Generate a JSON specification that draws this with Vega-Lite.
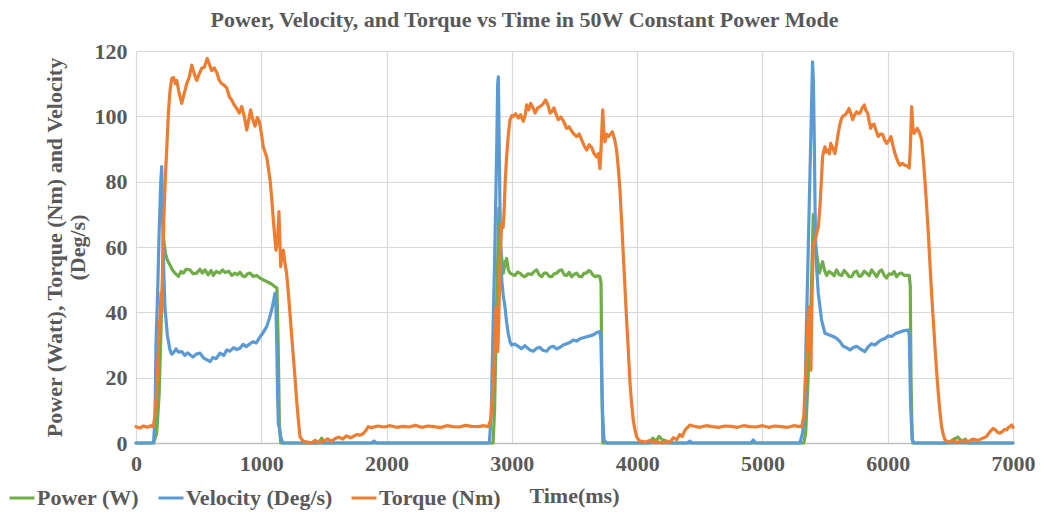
{
  "$schema": "https://vega.github.io/schema/vega-lite/v6.json",
  "width": 877,
  "height": 392,
  "autosize": "none",
  "padding": {"left": 136, "top": 51, "right": 29, "bottom": 72},
  "background": "white",
  "title": {
    "text": "Power, Velocity, and Torque vs Time in 50W Constant Power Mode",
    "font": "Liberation Serif", "fontSize": 22, "fontWeight": "bold", "color": "#595959",
    "anchor": "middle", "frame": "group", "dx": -50, "offset": 8
  },
  "data": {"values": [
    {"s":"Power (W)","t":0,"v":0},{"s":"Power (W)","t":140,"v":0},{"s":"Power (W)","t":165,"v":3},{"s":"Power (W)","t":185,"v":15},{"s":"Power (W)","t":205,"v":42},{"s":"Power (W)","t":222,"v":62},{"s":"Power (W)","t":235,"v":58},{"s":"Power (W)","t":250,"v":56},{"s":"Power (W)","t":271,"v":54.5},{"s":"Power (W)","t":290,"v":53},{"s":"Power (W)","t":311,"v":52},{"s":"Power (W)","t":338,"v":51},{"s":"Power (W)","t":360,"v":52.5},{"s":"Power (W)","t":378,"v":52},{"s":"Power (W)","t":400,"v":53.2},{"s":"Power (W)","t":431,"v":53},{"s":"Power (W)","t":455,"v":51.8},{"s":"Power (W)","t":484,"v":52},{"s":"Power (W)","t":510,"v":53.2},{"s":"Power (W)","t":530,"v":52},{"s":"Power (W)","t":551,"v":53},{"s":"Power (W)","t":575,"v":51.5},{"s":"Power (W)","t":600,"v":52.8},{"s":"Power (W)","t":617,"v":51.3},{"s":"Power (W)","t":640,"v":52.5},{"s":"Power (W)","t":670,"v":52},{"s":"Power (W)","t":690,"v":53},{"s":"Power (W)","t":710,"v":52.2},{"s":"Power (W)","t":740,"v":52.6},{"s":"Power (W)","t":764,"v":51.3},{"s":"Power (W)","t":790,"v":52},{"s":"Power (W)","t":810,"v":51.5},{"s":"Power (W)","t":830,"v":52.3},{"s":"Power (W)","t":850,"v":51.2},{"s":"Power (W)","t":870,"v":50.9},{"s":"Power (W)","t":890,"v":51.8},{"s":"Power (W)","t":910,"v":52},{"s":"Power (W)","t":935,"v":51},{"s":"Power (W)","t":963,"v":51.3},{"s":"Power (W)","t":990,"v":50.5},{"s":"Power (W)","t":1016,"v":49.9},{"s":"Power (W)","t":1040,"v":49.5},{"s":"Power (W)","t":1070,"v":48.9},{"s":"Power (W)","t":1090,"v":48.5},{"s":"Power (W)","t":1109,"v":47.8},{"s":"Power (W)","t":1125,"v":47.5},{"s":"Power (W)","t":1135,"v":30},{"s":"Power (W)","t":1145,"v":5},{"s":"Power (W)","t":1155,"v":0},{"s":"Power (W)","t":1460,"v":0},{"s":"Power (W)","t":1482,"v":1.5},{"s":"Power (W)","t":1500,"v":0},{"s":"Power (W)","t":2850,"v":0},{"s":"Power (W)","t":2862,"v":10},{"s":"Power (W)","t":2880,"v":45},{"s":"Power (W)","t":2897,"v":72},{"s":"Power (W)","t":2910,"v":60},{"s":"Power (W)","t":2932,"v":52},{"s":"Power (W)","t":2945,"v":55},{"s":"Power (W)","t":2958,"v":56.5},{"s":"Power (W)","t":2972,"v":53},{"s":"Power (W)","t":2985,"v":52},{"s":"Power (W)","t":3005,"v":51.6},{"s":"Power (W)","t":3024,"v":51.3},{"s":"Power (W)","t":3045,"v":52.3},{"s":"Power (W)","t":3065,"v":52},{"s":"Power (W)","t":3085,"v":51.2},{"s":"Power (W)","t":3104,"v":50.9},{"s":"Power (W)","t":3130,"v":51.8},{"s":"Power (W)","t":3158,"v":51.6},{"s":"Power (W)","t":3178,"v":52.5},{"s":"Power (W)","t":3198,"v":53},{"s":"Power (W)","t":3218,"v":51.5},{"s":"Power (W)","t":3238,"v":50.9},{"s":"Power (W)","t":3258,"v":52},{"s":"Power (W)","t":3278,"v":52},{"s":"Power (W)","t":3298,"v":51},{"s":"Power (W)","t":3318,"v":50.9},{"s":"Power (W)","t":3338,"v":51.8},{"s":"Power (W)","t":3358,"v":52},{"s":"Power (W)","t":3378,"v":52.8},{"s":"Power (W)","t":3398,"v":53},{"s":"Power (W)","t":3418,"v":51.5},{"s":"Power (W)","t":3437,"v":51.3},{"s":"Power (W)","t":3457,"v":52.3},{"s":"Power (W)","t":3477,"v":50.9},{"s":"Power (W)","t":3497,"v":51.6},{"s":"Power (W)","t":3517,"v":52},{"s":"Power (W)","t":3537,"v":51},{"s":"Power (W)","t":3557,"v":50.9},{"s":"Power (W)","t":3577,"v":52},{"s":"Power (W)","t":3597,"v":52},{"s":"Power (W)","t":3612,"v":52.8},{"s":"Power (W)","t":3629,"v":52.5},{"s":"Power (W)","t":3645,"v":51.5},{"s":"Power (W)","t":3664,"v":50.9},{"s":"Power (W)","t":3685,"v":51.2},{"s":"Power (W)","t":3703,"v":50.9},{"s":"Power (W)","t":3712,"v":49},{"s":"Power (W)","t":3718,"v":20},{"s":"Power (W)","t":3726,"v":0},{"s":"Power (W)","t":4100,"v":0},{"s":"Power (W)","t":4125,"v":1.5},{"s":"Power (W)","t":4150,"v":0.5},{"s":"Power (W)","t":4175,"v":2},{"s":"Power (W)","t":4200,"v":1},{"s":"Power (W)","t":4240,"v":0.5},{"s":"Power (W)","t":4260,"v":0},{"s":"Power (W)","t":5330,"v":0},{"s":"Power (W)","t":5345,"v":3},{"s":"Power (W)","t":5365,"v":20},{"s":"Power (W)","t":5387,"v":42},{"s":"Power (W)","t":5406,"v":70},{"s":"Power (W)","t":5420,"v":62},{"s":"Power (W)","t":5433,"v":58},{"s":"Power (W)","t":5454,"v":52},{"s":"Power (W)","t":5468,"v":54},{"s":"Power (W)","t":5480,"v":55.5},{"s":"Power (W)","t":5495,"v":53},{"s":"Power (W)","t":5512,"v":51.3},{"s":"Power (W)","t":5532,"v":52.5},{"s":"Power (W)","t":5552,"v":52},{"s":"Power (W)","t":5572,"v":51.2},{"s":"Power (W)","t":5592,"v":53},{"s":"Power (W)","t":5612,"v":51.6},{"s":"Power (W)","t":5632,"v":51.3},{"s":"Power (W)","t":5652,"v":52.8},{"s":"Power (W)","t":5672,"v":52},{"s":"Power (W)","t":5692,"v":50.9},{"s":"Power (W)","t":5712,"v":50.9},{"s":"Power (W)","t":5732,"v":52.3},{"s":"Power (W)","t":5752,"v":52.6},{"s":"Power (W)","t":5772,"v":51},{"s":"Power (W)","t":5792,"v":51.3},{"s":"Power (W)","t":5812,"v":52.6},{"s":"Power (W)","t":5832,"v":52},{"s":"Power (W)","t":5852,"v":51.2},{"s":"Power (W)","t":5872,"v":53},{"s":"Power (W)","t":5892,"v":52},{"s":"Power (W)","t":5912,"v":50.9},{"s":"Power (W)","t":5932,"v":52.4},{"s":"Power (W)","t":5952,"v":53},{"s":"Power (W)","t":5972,"v":51.3},{"s":"Power (W)","t":5991,"v":50.5},{"s":"Power (W)","t":6011,"v":51.8},{"s":"Power (W)","t":6031,"v":51.6},{"s":"Power (W)","t":6051,"v":52.5},{"s":"Power (W)","t":6071,"v":50.9},{"s":"Power (W)","t":6091,"v":51.8},{"s":"Power (W)","t":6111,"v":52},{"s":"Power (W)","t":6131,"v":51.3},{"s":"Power (W)","t":6151,"v":51.3},{"s":"Power (W)","t":6172,"v":51.3},{"s":"Power (W)","t":6180,"v":48},{"s":"Power (W)","t":6186,"v":20},{"s":"Power (W)","t":6195,"v":2},{"s":"Power (W)","t":6200,"v":0},{"s":"Power (W)","t":6480,"v":0},{"s":"Power (W)","t":6520,"v":1},{"s":"Power (W)","t":6560,"v":1.8},{"s":"Power (W)","t":6590,"v":0.5},{"s":"Power (W)","t":6620,"v":1.2},{"s":"Power (W)","t":6640,"v":0},{"s":"Power (W)","t":7000,"v":0},

    {"s":"Velocity (Deg/s)","t":0,"v":0},{"s":"Velocity (Deg/s)","t":140,"v":0},{"s":"Velocity (Deg/s)","t":152,"v":8},{"s":"Velocity (Deg/s)","t":160,"v":31},{"s":"Velocity (Deg/s)","t":172,"v":45},{"s":"Velocity (Deg/s)","t":185,"v":65},{"s":"Velocity (Deg/s)","t":198,"v":80},{"s":"Velocity (Deg/s)","t":205,"v":84.6},{"s":"Velocity (Deg/s)","t":212,"v":70},{"s":"Velocity (Deg/s)","t":222,"v":52},{"s":"Velocity (Deg/s)","t":231,"v":41.7},{"s":"Velocity (Deg/s)","t":250,"v":33},{"s":"Velocity (Deg/s)","t":271,"v":28.5},{"s":"Velocity (Deg/s)","t":285,"v":27.2},{"s":"Velocity (Deg/s)","t":298,"v":27.6},{"s":"Velocity (Deg/s)","t":320,"v":28.8},{"s":"Velocity (Deg/s)","t":340,"v":27.8},{"s":"Velocity (Deg/s)","t":365,"v":28},{"s":"Velocity (Deg/s)","t":390,"v":26.8},{"s":"Velocity (Deg/s)","t":411,"v":27.6},{"s":"Velocity (Deg/s)","t":431,"v":27},{"s":"Velocity (Deg/s)","t":455,"v":26.3},{"s":"Velocity (Deg/s)","t":480,"v":27.2},{"s":"Velocity (Deg/s)","t":511,"v":27.5},{"s":"Velocity (Deg/s)","t":540,"v":26},{"s":"Velocity (Deg/s)","t":566,"v":25.5},{"s":"Velocity (Deg/s)","t":591,"v":24.9},{"s":"Velocity (Deg/s)","t":615,"v":26.2},{"s":"Velocity (Deg/s)","t":640,"v":25.8},{"s":"Velocity (Deg/s)","t":670,"v":27.5},{"s":"Velocity (Deg/s)","t":700,"v":26.8},{"s":"Velocity (Deg/s)","t":725,"v":28.5},{"s":"Velocity (Deg/s)","t":750,"v":28.1},{"s":"Velocity (Deg/s)","t":780,"v":29.2},{"s":"Velocity (Deg/s)","t":805,"v":28.6},{"s":"Velocity (Deg/s)","t":830,"v":29},{"s":"Velocity (Deg/s)","t":855,"v":30.2},{"s":"Velocity (Deg/s)","t":880,"v":29.5},{"s":"Velocity (Deg/s)","t":910,"v":30.4},{"s":"Velocity (Deg/s)","t":935,"v":31},{"s":"Velocity (Deg/s)","t":960,"v":30.6},{"s":"Velocity (Deg/s)","t":990,"v":32.5},{"s":"Velocity (Deg/s)","t":1010,"v":33.5},{"s":"Velocity (Deg/s)","t":1030,"v":34.8},{"s":"Velocity (Deg/s)","t":1043,"v":35.6},{"s":"Velocity (Deg/s)","t":1063,"v":38},{"s":"Velocity (Deg/s)","t":1083,"v":40.7},{"s":"Velocity (Deg/s)","t":1098,"v":43.5},{"s":"Velocity (Deg/s)","t":1109,"v":45.8},{"s":"Velocity (Deg/s)","t":1117,"v":42},{"s":"Velocity (Deg/s)","t":1123,"v":31.5},{"s":"Velocity (Deg/s)","t":1130,"v":15},{"s":"Velocity (Deg/s)","t":1136,"v":6},{"s":"Velocity (Deg/s)","t":1145,"v":4.5},{"s":"Velocity (Deg/s)","t":1155,"v":2},{"s":"Velocity (Deg/s)","t":1170,"v":0},{"s":"Velocity (Deg/s)","t":1880,"v":0},{"s":"Velocity (Deg/s)","t":1900,"v":0.6},{"s":"Velocity (Deg/s)","t":1920,"v":0},{"s":"Velocity (Deg/s)","t":2820,"v":0},{"s":"Velocity (Deg/s)","t":2835,"v":8},{"s":"Velocity (Deg/s)","t":2847,"v":30},{"s":"Velocity (Deg/s)","t":2862,"v":55},{"s":"Velocity (Deg/s)","t":2879,"v":90},{"s":"Velocity (Deg/s)","t":2887,"v":110},{"s":"Velocity (Deg/s)","t":2892,"v":112.1},{"s":"Velocity (Deg/s)","t":2898,"v":95},{"s":"Velocity (Deg/s)","t":2905,"v":72.3},{"s":"Velocity (Deg/s)","t":2912,"v":58},{"s":"Velocity (Deg/s)","t":2919,"v":49.9},{"s":"Velocity (Deg/s)","t":2932,"v":45},{"s":"Velocity (Deg/s)","t":2945,"v":41.7},{"s":"Velocity (Deg/s)","t":2958,"v":37},{"s":"Velocity (Deg/s)","t":2971,"v":33.6},{"s":"Velocity (Deg/s)","t":2985,"v":31},{"s":"Velocity (Deg/s)","t":2998,"v":30},{"s":"Velocity (Deg/s)","t":3024,"v":30.3},{"s":"Velocity (Deg/s)","t":3051,"v":29.6},{"s":"Velocity (Deg/s)","t":3078,"v":28.9},{"s":"Velocity (Deg/s)","t":3104,"v":29.8},{"s":"Velocity (Deg/s)","t":3118,"v":29.3},{"s":"Velocity (Deg/s)","t":3145,"v":28.5},{"s":"Velocity (Deg/s)","t":3171,"v":28.1},{"s":"Velocity (Deg/s)","t":3198,"v":29},{"s":"Velocity (Deg/s)","t":3224,"v":29.3},{"s":"Velocity (Deg/s)","t":3251,"v":28.3},{"s":"Velocity (Deg/s)","t":3278,"v":28.1},{"s":"Velocity (Deg/s)","t":3305,"v":29.3},{"s":"Velocity (Deg/s)","t":3331,"v":29.6},{"s":"Velocity (Deg/s)","t":3358,"v":28.8},{"s":"Velocity (Deg/s)","t":3384,"v":29.3},{"s":"Velocity (Deg/s)","t":3411,"v":30},{"s":"Velocity (Deg/s)","t":3437,"v":30.4},{"s":"Velocity (Deg/s)","t":3464,"v":30.8},{"s":"Velocity (Deg/s)","t":3490,"v":31.5},{"s":"Velocity (Deg/s)","t":3517,"v":31.2},{"s":"Velocity (Deg/s)","t":3544,"v":31.9},{"s":"Velocity (Deg/s)","t":3570,"v":32.2},{"s":"Velocity (Deg/s)","t":3597,"v":32.5},{"s":"Velocity (Deg/s)","t":3623,"v":32.8},{"s":"Velocity (Deg/s)","t":3650,"v":33.1},{"s":"Velocity (Deg/s)","t":3677,"v":33.8},{"s":"Velocity (Deg/s)","t":3703,"v":34.1},{"s":"Velocity (Deg/s)","t":3711,"v":31.5},{"s":"Velocity (Deg/s)","t":3722,"v":11},{"s":"Velocity (Deg/s)","t":3735,"v":1},{"s":"Velocity (Deg/s)","t":3756,"v":0},{"s":"Velocity (Deg/s)","t":4400,"v":0},{"s":"Velocity (Deg/s)","t":4420,"v":0.6},{"s":"Velocity (Deg/s)","t":4440,"v":0},{"s":"Velocity (Deg/s)","t":4907,"v":0},{"s":"Velocity (Deg/s)","t":4927,"v":0.9},{"s":"Velocity (Deg/s)","t":4947,"v":0},{"s":"Velocity (Deg/s)","t":5300,"v":0},{"s":"Velocity (Deg/s)","t":5320,"v":3},{"s":"Velocity (Deg/s)","t":5340,"v":10},{"s":"Velocity (Deg/s)","t":5347,"v":29},{"s":"Velocity (Deg/s)","t":5366,"v":60},{"s":"Velocity (Deg/s)","t":5387,"v":95},{"s":"Velocity (Deg/s)","t":5400,"v":116.7},{"s":"Velocity (Deg/s)","t":5407,"v":110},{"s":"Velocity (Deg/s)","t":5414,"v":92.7},{"s":"Velocity (Deg/s)","t":5420,"v":72},{"s":"Velocity (Deg/s)","t":5427,"v":57},{"s":"Velocity (Deg/s)","t":5446,"v":45.8},{"s":"Velocity (Deg/s)","t":5472,"v":37.6},{"s":"Velocity (Deg/s)","t":5499,"v":33.6},{"s":"Velocity (Deg/s)","t":5519,"v":33.3},{"s":"Velocity (Deg/s)","t":5539,"v":33},{"s":"Velocity (Deg/s)","t":5565,"v":32.6},{"s":"Velocity (Deg/s)","t":5592,"v":32},{"s":"Velocity (Deg/s)","t":5618,"v":31.1},{"s":"Velocity (Deg/s)","t":5645,"v":29.6},{"s":"Velocity (Deg/s)","t":5671,"v":29.2},{"s":"Velocity (Deg/s)","t":5698,"v":28.5},{"s":"Velocity (Deg/s)","t":5725,"v":29.2},{"s":"Velocity (Deg/s)","t":5752,"v":29.6},{"s":"Velocity (Deg/s)","t":5785,"v":28.7},{"s":"Velocity (Deg/s)","t":5818,"v":28},{"s":"Velocity (Deg/s)","t":5845,"v":29.5},{"s":"Velocity (Deg/s)","t":5871,"v":30.4},{"s":"Velocity (Deg/s)","t":5898,"v":30},{"s":"Velocity (Deg/s)","t":5925,"v":30.9},{"s":"Velocity (Deg/s)","t":5951,"v":31.6},{"s":"Velocity (Deg/s)","t":5978,"v":32},{"s":"Velocity (Deg/s)","t":6005,"v":32.8},{"s":"Velocity (Deg/s)","t":6031,"v":32.6},{"s":"Velocity (Deg/s)","t":6064,"v":33.5},{"s":"Velocity (Deg/s)","t":6097,"v":34},{"s":"Velocity (Deg/s)","t":6130,"v":34.4},{"s":"Velocity (Deg/s)","t":6164,"v":34.6},{"s":"Velocity (Deg/s)","t":6172,"v":33},{"s":"Velocity (Deg/s)","t":6183,"v":11},{"s":"Velocity (Deg/s)","t":6196,"v":1},{"s":"Velocity (Deg/s)","t":6210,"v":0},{"s":"Velocity (Deg/s)","t":7000,"v":0},

    {"s":"Torque (Nm)","t":0,"v":5},{"s":"Torque (Nm)","t":30,"v":4.6},{"s":"Torque (Nm)","t":60,"v":5.2},{"s":"Torque (Nm)","t":90,"v":4.8},{"s":"Torque (Nm)","t":120,"v":5.3},{"s":"Torque (Nm)","t":138,"v":5},{"s":"Torque (Nm)","t":150,"v":8},{"s":"Torque (Nm)","t":165,"v":16},{"s":"Torque (Nm)","t":178,"v":28},{"s":"Torque (Nm)","t":191,"v":38.7},{"s":"Torque (Nm)","t":200,"v":46},{"s":"Torque (Nm)","t":207,"v":40},{"s":"Torque (Nm)","t":213,"v":57},{"s":"Torque (Nm)","t":225,"v":72},{"s":"Torque (Nm)","t":235,"v":82},{"s":"Torque (Nm)","t":245,"v":89.7},{"s":"Torque (Nm)","t":260,"v":102},{"s":"Torque (Nm)","t":272,"v":108},{"s":"Torque (Nm)","t":285,"v":111.6},{"s":"Torque (Nm)","t":300,"v":111.9},{"s":"Torque (Nm)","t":315,"v":110},{"s":"Torque (Nm)","t":325,"v":111},{"s":"Torque (Nm)","t":345,"v":107},{"s":"Torque (Nm)","t":365,"v":104},{"s":"Torque (Nm)","t":385,"v":107},{"s":"Torque (Nm)","t":405,"v":110},{"s":"Torque (Nm)","t":425,"v":112},{"s":"Torque (Nm)","t":445,"v":115.7},{"s":"Torque (Nm)","t":465,"v":113},{"s":"Torque (Nm)","t":485,"v":111},{"s":"Torque (Nm)","t":505,"v":113},{"s":"Torque (Nm)","t":524,"v":114.7},{"s":"Torque (Nm)","t":545,"v":115},{"s":"Torque (Nm)","t":569,"v":117.7},{"s":"Torque (Nm)","t":585,"v":116},{"s":"Torque (Nm)","t":604,"v":114},{"s":"Torque (Nm)","t":625,"v":114.8},{"s":"Torque (Nm)","t":644,"v":113.5},{"s":"Torque (Nm)","t":665,"v":111},{"s":"Torque (Nm)","t":684,"v":110},{"s":"Torque (Nm)","t":705,"v":109.5},{"s":"Torque (Nm)","t":724,"v":108.7},{"s":"Torque (Nm)","t":745,"v":106},{"s":"Torque (Nm)","t":764,"v":105},{"s":"Torque (Nm)","t":784,"v":103.5},{"s":"Torque (Nm)","t":804,"v":102.4},{"s":"Torque (Nm)","t":824,"v":101},{"s":"Torque (Nm)","t":844,"v":103},{"s":"Torque (Nm)","t":864,"v":100},{"s":"Torque (Nm)","t":884,"v":95.8},{"s":"Torque (Nm)","t":900,"v":99},{"s":"Torque (Nm)","t":915,"v":102},{"s":"Torque (Nm)","t":932,"v":99},{"s":"Torque (Nm)","t":950,"v":97},{"s":"Torque (Nm)","t":968,"v":99.6},{"s":"Torque (Nm)","t":984,"v":98.5},{"s":"Torque (Nm)","t":1000,"v":95},{"s":"Torque (Nm)","t":1016,"v":90.7},{"s":"Torque (Nm)","t":1030,"v":89},{"s":"Torque (Nm)","t":1043,"v":87.6},{"s":"Torque (Nm)","t":1057,"v":84},{"s":"Torque (Nm)","t":1070,"v":80.5},{"s":"Torque (Nm)","t":1083,"v":75},{"s":"Torque (Nm)","t":1096,"v":68.3},{"s":"Torque (Nm)","t":1108,"v":63},{"s":"Torque (Nm)","t":1117,"v":59},{"s":"Torque (Nm)","t":1130,"v":62},{"s":"Torque (Nm)","t":1141,"v":70.8},{"s":"Torque (Nm)","t":1148,"v":62},{"s":"Torque (Nm)","t":1155,"v":54},{"s":"Torque (Nm)","t":1165,"v":58},{"s":"Torque (Nm)","t":1176,"v":59},{"s":"Torque (Nm)","t":1189,"v":55},{"s":"Torque (Nm)","t":1202,"v":52},{"s":"Torque (Nm)","t":1216,"v":46},{"s":"Torque (Nm)","t":1229,"v":39.7},{"s":"Torque (Nm)","t":1242,"v":33},{"s":"Torque (Nm)","t":1256,"v":26.4},{"s":"Torque (Nm)","t":1269,"v":20},{"s":"Torque (Nm)","t":1282,"v":13.2},{"s":"Torque (Nm)","t":1296,"v":7},{"s":"Torque (Nm)","t":1309,"v":1.9},{"s":"Torque (Nm)","t":1335,"v":0.5},{"s":"Torque (Nm)","t":1370,"v":0.3},{"s":"Torque (Nm)","t":1400,"v":0},{"s":"Torque (Nm)","t":1430,"v":0.8},{"s":"Torque (Nm)","t":1460,"v":0.2},{"s":"Torque (Nm)","t":1500,"v":0.6},{"s":"Torque (Nm)","t":1530,"v":1.3},{"s":"Torque (Nm)","t":1560,"v":0.5},{"s":"Torque (Nm)","t":1590,"v":1.4},{"s":"Torque (Nm)","t":1620,"v":1.8},{"s":"Torque (Nm)","t":1650,"v":1.2},{"s":"Torque (Nm)","t":1680,"v":2.2},{"s":"Torque (Nm)","t":1710,"v":1.6},{"s":"Torque (Nm)","t":1734,"v":2},{"s":"Torque (Nm)","t":1760,"v":2.6},{"s":"Torque (Nm)","t":1790,"v":2.4},{"s":"Torque (Nm)","t":1814,"v":2.9},{"s":"Torque (Nm)","t":1835,"v":3.8},{"s":"Torque (Nm)","t":1854,"v":5},{"s":"Torque (Nm)","t":1880,"v":4.7},{"s":"Torque (Nm)","t":1930,"v":5.2},{"s":"Torque (Nm)","t":1980,"v":4.9},{"s":"Torque (Nm)","t":2030,"v":5.3},{"s":"Torque (Nm)","t":2080,"v":4.8},{"s":"Torque (Nm)","t":2130,"v":5.1},{"s":"Torque (Nm)","t":2180,"v":4.9},{"s":"Torque (Nm)","t":2230,"v":5.4},{"s":"Torque (Nm)","t":2280,"v":4.8},{"s":"Torque (Nm)","t":2330,"v":5.2},{"s":"Torque (Nm)","t":2380,"v":5},{"s":"Torque (Nm)","t":2430,"v":4.7},{"s":"Torque (Nm)","t":2480,"v":5.3},{"s":"Torque (Nm)","t":2530,"v":5},{"s":"Torque (Nm)","t":2580,"v":4.9},{"s":"Torque (Nm)","t":2630,"v":5.4},{"s":"Torque (Nm)","t":2680,"v":5.1},{"s":"Torque (Nm)","t":2730,"v":5},{"s":"Torque (Nm)","t":2780,"v":5.3},{"s":"Torque (Nm)","t":2812,"v":5},{"s":"Torque (Nm)","t":2830,"v":7},{"s":"Torque (Nm)","t":2839,"v":11},{"s":"Torque (Nm)","t":2850,"v":18},{"s":"Torque (Nm)","t":2860,"v":26.4},{"s":"Torque (Nm)","t":2873,"v":41.7},{"s":"Torque (Nm)","t":2880,"v":35},{"s":"Torque (Nm)","t":2887,"v":28},{"s":"Torque (Nm)","t":2892,"v":33},{"s":"Torque (Nm)","t":2900,"v":45},{"s":"Torque (Nm)","t":2910,"v":60},{"s":"Torque (Nm)","t":2919,"v":67.2},{"s":"Torque (Nm)","t":2930,"v":66},{"s":"Torque (Nm)","t":2937,"v":70},{"s":"Torque (Nm)","t":2947,"v":80},{"s":"Torque (Nm)","t":2958,"v":87.6},{"s":"Torque (Nm)","t":2971,"v":94},{"s":"Torque (Nm)","t":2985,"v":98.9},{"s":"Torque (Nm)","t":3000,"v":100.2},{"s":"Torque (Nm)","t":3011,"v":100},{"s":"Torque (Nm)","t":3030,"v":100.8},{"s":"Torque (Nm)","t":3051,"v":99.5},{"s":"Torque (Nm)","t":3070,"v":100.5},{"s":"Torque (Nm)","t":3091,"v":98.5},{"s":"Torque (Nm)","t":3105,"v":100},{"s":"Torque (Nm)","t":3118,"v":103.5},{"s":"Torque (Nm)","t":3135,"v":102},{"s":"Torque (Nm)","t":3150,"v":104},{"s":"Torque (Nm)","t":3167,"v":102.8},{"s":"Torque (Nm)","t":3185,"v":101},{"s":"Torque (Nm)","t":3205,"v":102.5},{"s":"Torque (Nm)","t":3224,"v":103},{"s":"Torque (Nm)","t":3245,"v":103.6},{"s":"Torque (Nm)","t":3270,"v":105},{"s":"Torque (Nm)","t":3288,"v":103.5},{"s":"Torque (Nm)","t":3305,"v":101},{"s":"Torque (Nm)","t":3320,"v":101.5},{"s":"Torque (Nm)","t":3336,"v":102.6},{"s":"Torque (Nm)","t":3354,"v":100.5},{"s":"Torque (Nm)","t":3371,"v":99},{"s":"Torque (Nm)","t":3391,"v":99.8},{"s":"Torque (Nm)","t":3411,"v":98.6},{"s":"Torque (Nm)","t":3424,"v":97.5},{"s":"Torque (Nm)","t":3437,"v":96.3},{"s":"Torque (Nm)","t":3457,"v":96.8},{"s":"Torque (Nm)","t":3477,"v":95.5},{"s":"Torque (Nm)","t":3497,"v":94.5},{"s":"Torque (Nm)","t":3517,"v":93.8},{"s":"Torque (Nm)","t":3537,"v":94.6},{"s":"Torque (Nm)","t":3557,"v":92.8},{"s":"Torque (Nm)","t":3577,"v":91},{"s":"Torque (Nm)","t":3597,"v":89.7},{"s":"Torque (Nm)","t":3617,"v":91.3},{"s":"Torque (Nm)","t":3637,"v":90.5},{"s":"Torque (Nm)","t":3657,"v":88.5},{"s":"Torque (Nm)","t":3677,"v":87.6},{"s":"Torque (Nm)","t":3690,"v":88.6},{"s":"Torque (Nm)","t":3703,"v":84},{"s":"Torque (Nm)","t":3712,"v":90},{"s":"Torque (Nm)","t":3725,"v":102},{"s":"Torque (Nm)","t":3733,"v":96},{"s":"Torque (Nm)","t":3743,"v":92.2},{"s":"Torque (Nm)","t":3757,"v":94.5},{"s":"Torque (Nm)","t":3770,"v":93.8},{"s":"Torque (Nm)","t":3786,"v":94.5},{"s":"Torque (Nm)","t":3802,"v":95.3},{"s":"Torque (Nm)","t":3820,"v":93},{"s":"Torque (Nm)","t":3836,"v":89.7},{"s":"Torque (Nm)","t":3850,"v":84},{"s":"Torque (Nm)","t":3863,"v":77.4},{"s":"Torque (Nm)","t":3876,"v":68},{"s":"Torque (Nm)","t":3889,"v":58},{"s":"Torque (Nm)","t":3903,"v":47.5},{"s":"Torque (Nm)","t":3916,"v":37.6},{"s":"Torque (Nm)","t":3930,"v":28},{"s":"Torque (Nm)","t":3943,"v":18.3},{"s":"Torque (Nm)","t":3956,"v":12},{"s":"Torque (Nm)","t":3969,"v":7},{"s":"Torque (Nm)","t":3983,"v":4},{"s":"Torque (Nm)","t":3996,"v":1.9},{"s":"Torque (Nm)","t":4016,"v":0.8},{"s":"Torque (Nm)","t":4036,"v":0.5},{"s":"Torque (Nm)","t":4070,"v":0.3},{"s":"Torque (Nm)","t":4100,"v":0.8},{"s":"Torque (Nm)","t":4130,"v":0.2},{"s":"Torque (Nm)","t":4160,"v":0.4},{"s":"Torque (Nm)","t":4200,"v":0},{"s":"Torque (Nm)","t":4230,"v":0.5},{"s":"Torque (Nm)","t":4260,"v":0.2},{"s":"Torque (Nm)","t":4290,"v":1.6},{"s":"Torque (Nm)","t":4316,"v":1},{"s":"Torque (Nm)","t":4340,"v":2.6},{"s":"Torque (Nm)","t":4360,"v":2},{"s":"Torque (Nm)","t":4380,"v":3.8},{"s":"Torque (Nm)","t":4395,"v":4.5},{"s":"Torque (Nm)","t":4420,"v":5.5},{"s":"Torque (Nm)","t":4448,"v":5.2},{"s":"Torque (Nm)","t":4500,"v":4.8},{"s":"Torque (Nm)","t":4550,"v":5.3},{"s":"Torque (Nm)","t":4600,"v":5},{"s":"Torque (Nm)","t":4650,"v":4.8},{"s":"Torque (Nm)","t":4700,"v":5.2},{"s":"Torque (Nm)","t":4750,"v":5.1},{"s":"Torque (Nm)","t":4800,"v":4.8},{"s":"Torque (Nm)","t":4850,"v":5.3},{"s":"Torque (Nm)","t":4900,"v":5},{"s":"Torque (Nm)","t":4950,"v":4.9},{"s":"Torque (Nm)","t":5000,"v":5.3},{"s":"Torque (Nm)","t":5050,"v":4.8},{"s":"Torque (Nm)","t":5100,"v":5.2},{"s":"Torque (Nm)","t":5150,"v":5},{"s":"Torque (Nm)","t":5200,"v":4.8},{"s":"Torque (Nm)","t":5250,"v":5.3},{"s":"Torque (Nm)","t":5290,"v":5.1},{"s":"Torque (Nm)","t":5313,"v":5},{"s":"Torque (Nm)","t":5330,"v":8},{"s":"Torque (Nm)","t":5339,"v":16},{"s":"Torque (Nm)","t":5358,"v":31.5},{"s":"Torque (Nm)","t":5366,"v":40},{"s":"Torque (Nm)","t":5374,"v":41.7},{"s":"Torque (Nm)","t":5380,"v":30},{"s":"Torque (Nm)","t":5387,"v":22.3},{"s":"Torque (Nm)","t":5396,"v":45},{"s":"Torque (Nm)","t":5406,"v":60},{"s":"Torque (Nm)","t":5420,"v":62},{"s":"Torque (Nm)","t":5433,"v":64.2},{"s":"Torque (Nm)","t":5446,"v":66},{"s":"Torque (Nm)","t":5459,"v":72.3},{"s":"Torque (Nm)","t":5470,"v":80},{"s":"Torque (Nm)","t":5480,"v":87.6},{"s":"Torque (Nm)","t":5490,"v":89.5},{"s":"Torque (Nm)","t":5499,"v":90.7},{"s":"Torque (Nm)","t":5512,"v":89},{"s":"Torque (Nm)","t":5526,"v":89.7},{"s":"Torque (Nm)","t":5535,"v":88.5},{"s":"Torque (Nm)","t":5545,"v":91.7},{"s":"Torque (Nm)","t":5560,"v":90.5},{"s":"Torque (Nm)","t":5579,"v":88.6},{"s":"Torque (Nm)","t":5592,"v":91.5},{"s":"Torque (Nm)","t":5605,"v":94.8},{"s":"Torque (Nm)","t":5618,"v":97.5},{"s":"Torque (Nm)","t":5632,"v":99.4},{"s":"Torque (Nm)","t":5645,"v":100.2},{"s":"Torque (Nm)","t":5659,"v":100.4},{"s":"Torque (Nm)","t":5675,"v":101.2},{"s":"Torque (Nm)","t":5691,"v":102.4},{"s":"Torque (Nm)","t":5705,"v":101},{"s":"Torque (Nm)","t":5720,"v":99},{"s":"Torque (Nm)","t":5737,"v":100.5},{"s":"Torque (Nm)","t":5752,"v":101.4},{"s":"Torque (Nm)","t":5765,"v":100.8},{"s":"Torque (Nm)","t":5779,"v":101},{"s":"Torque (Nm)","t":5796,"v":102.6},{"s":"Torque (Nm)","t":5813,"v":103.5},{"s":"Torque (Nm)","t":5826,"v":101.8},{"s":"Torque (Nm)","t":5840,"v":101},{"s":"Torque (Nm)","t":5852,"v":98.5},{"s":"Torque (Nm)","t":5864,"v":96.3},{"s":"Torque (Nm)","t":5878,"v":97.4},{"s":"Torque (Nm)","t":5891,"v":97.6},{"s":"Torque (Nm)","t":5908,"v":95.5},{"s":"Torque (Nm)","t":5925,"v":93.8},{"s":"Torque (Nm)","t":5942,"v":94.6},{"s":"Torque (Nm)","t":5959,"v":94.5},{"s":"Torque (Nm)","t":5975,"v":92.8},{"s":"Torque (Nm)","t":5991,"v":91.7},{"s":"Torque (Nm)","t":6008,"v":92.5},{"s":"Torque (Nm)","t":6026,"v":93.8},{"s":"Torque (Nm)","t":6042,"v":91},{"s":"Torque (Nm)","t":6058,"v":88.6},{"s":"Torque (Nm)","t":6078,"v":86.5},{"s":"Torque (Nm)","t":6097,"v":85},{"s":"Torque (Nm)","t":6117,"v":85.6},{"s":"Torque (Nm)","t":6137,"v":85},{"s":"Torque (Nm)","t":6155,"v":84.8},{"s":"Torque (Nm)","t":6172,"v":84.2},{"s":"Torque (Nm)","t":6180,"v":90},{"s":"Torque (Nm)","t":6191,"v":103},{"s":"Torque (Nm)","t":6200,"v":97},{"s":"Torque (Nm)","t":6209,"v":94.8},{"s":"Torque (Nm)","t":6222,"v":95.5},{"s":"Torque (Nm)","t":6236,"v":96.3},{"s":"Torque (Nm)","t":6254,"v":95},{"s":"Torque (Nm)","t":6271,"v":92.7},{"s":"Torque (Nm)","t":6284,"v":87},{"s":"Torque (Nm)","t":6297,"v":80.5},{"s":"Torque (Nm)","t":6310,"v":73},{"s":"Torque (Nm)","t":6324,"v":64.2},{"s":"Torque (Nm)","t":6337,"v":55},{"s":"Torque (Nm)","t":6350,"v":45.8},{"s":"Torque (Nm)","t":6364,"v":37.5},{"s":"Torque (Nm)","t":6377,"v":29.5},{"s":"Torque (Nm)","t":6390,"v":22},{"s":"Torque (Nm)","t":6404,"v":15.2},{"s":"Torque (Nm)","t":6417,"v":9.5},{"s":"Torque (Nm)","t":6430,"v":5},{"s":"Torque (Nm)","t":6444,"v":2.5},{"s":"Torque (Nm)","t":6457,"v":1},{"s":"Torque (Nm)","t":6484,"v":0.3},{"s":"Torque (Nm)","t":6520,"v":0.6},{"s":"Torque (Nm)","t":6560,"v":0.2},{"s":"Torque (Nm)","t":6600,"v":0.8},{"s":"Torque (Nm)","t":6640,"v":0.4},{"s":"Torque (Nm)","t":6680,"v":1.2},{"s":"Torque (Nm)","t":6720,"v":0.8},{"s":"Torque (Nm)","t":6760,"v":1.5},{"s":"Torque (Nm)","t":6789,"v":2},{"s":"Torque (Nm)","t":6810,"v":3.2},{"s":"Torque (Nm)","t":6825,"v":3.8},{"s":"Torque (Nm)","t":6842,"v":4.5},{"s":"Torque (Nm)","t":6860,"v":4},{"s":"Torque (Nm)","t":6880,"v":3.2},{"s":"Torque (Nm)","t":6895,"v":3},{"s":"Torque (Nm)","t":6915,"v":3.5},{"s":"Torque (Nm)","t":6935,"v":4.2},{"s":"Torque (Nm)","t":6949,"v":4},{"s":"Torque (Nm)","t":6965,"v":4.8},{"s":"Torque (Nm)","t":6980,"v":5.2},{"s":"Torque (Nm)","t":6989,"v":5.5},{"s":"Torque (Nm)","t":7000,"v":4.8}
  ]},
  "mark": {"type": "line", "strokeWidth": 3.2, "strokeJoin": "round", "strokeCap": "round"},
  "encoding": {
    "x": {
      "field": "t", "type": "quantitative",
      "scale": {"domain": [0, 7000], "nice": false, "zero": false},
      "axis": {
        "values": [0, 1000, 2000, 3000, 4000, 5000, 6000, 7000],
        "format": "d", "grid": true, "ticks": false, "labelFlush": false, "labelOverlap": false,
        "domainColor": "#BFBFBF", "domainWidth": 1.5,
        "labelPadding": 10,
        "title": "Time(ms)", "titleX": 438, "titleY": 52, "titleAlign": "center", "titleBaseline": "middle"
      }
    },
    "y": {
      "field": "v", "type": "quantitative",
      "scale": {"domain": [0, 120], "nice": false},
      "axis": {
        "values": [0, 20, 40, 60, 80, 100, 120],
        "grid": true, "ticks": false, "domain": false, "labelPadding": 9, "labelFlush": false,
        "title": ["Power (Watt), Torque (Nm) and Velocity", "(Deg/s)"],
        "titleAngle": -90, "titleX": -92, "titleY": 196, "titleAlign": "center", "titleBaseline": "top", "titleLineHeight": 23
      }
    },
    "color": {
      "field": "s", "type": "nominal", "sort": null,
      "scale": {"domain": ["Power (W)", "Velocity (Deg/s)", "Torque (Nm)"], "range": ["#70AD47", "#5B9BD5", "#ED7D31"]},
      "legend": {
        "title": null, "orient": "none", "legendX": -128, "legendY": 433, "direction": "horizontal",
        "symbolType": "stroke", "symbolStrokeWidth": 3, "symbolSize": 625,
        "labelFont": "Liberation Serif", "labelFontSize": 22, "labelFontWeight": "bold", "labelColor": "#595959",
        "labelOffset": 1, "columnPadding": 12, "labelLimit": 300
      }
    }
  },
  "config": {
    "view": {"stroke": null},
    "axis": {
      "labelFont": "Liberation Serif", "labelFontSize": 22, "labelFontWeight": "bold", "labelColor": "#595959",
      "titleFont": "Liberation Serif", "titleFontSize": 22, "titleFontWeight": "bold", "titleColor": "#595959",
      "gridColor": "#D9D9D9", "gridWidth": 1.2
    }
  }
}
